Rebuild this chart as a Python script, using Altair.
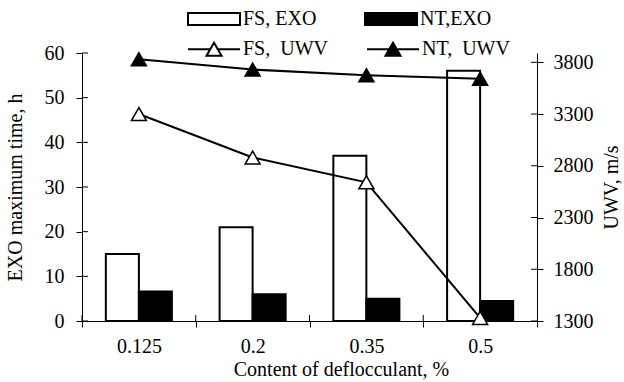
import altair as alt
import pandas as pd

# Deflocculant content (x categories)
categories = ["0.125", "0.2", "0.35", "0.5"]

# Maximum exotherm time, h (left axis, bars)
fs_exo = [15, 21, 37, 56]
nt_exo = [6.6, 6.0, 5.0, 4.5]

# Ultrasonic wave velocity, m/s (right axis, lines)
fs_uwv = [3300, 2880, 2640, 1330]
nt_uwv = [3830, 3730, 3675, 3640]

exo_ticks = [0, 10, 20, 30, 40, 50, 60]
uwv_ticks = [1300, 1800, 2300, 2800, 3300, 3800]

bar_series = ["FS, EXO", "NT,EXO"]
line_series = ["FS,\u00a0 UWV", "NT,\u00a0 UWV"]

FONT = "Liberation Serif"
W, H = 455, 268

bar_df = pd.DataFrame({
    "cat": categories * 2,
    "series": [bar_series[0]] * 4 + [bar_series[1]] * 4,
    "exo": fs_exo + nt_exo,
})
line_df = pd.DataFrame({
    "cat": categories * 2,
    "idx": list(range(4)) * 2,
    "series": [line_series[0]] * 4 + [line_series[1]] * 4,
    "uwv": fs_uwv + nt_uwv,
})
cat_df = pd.DataFrame({"cat": categories})
exo_tick_df = pd.DataFrame({"exo": exo_ticks})
uwv_tick_df = pd.DataFrame({"uwv": uwv_ticks})

left_scale = alt.Scale(domain=[0, 60], nice=False, zero=True)
right_scale = alt.Scale(domain=[1300, 3890], nice=False, zero=False)
x_scale = alt.Scale(paddingInner=0, paddingOuter=0)

x_axis = alt.Axis(
    title="Content of deflocculant, %", tickBand="extent", tickSize=6,
    labelPadding=9, labelAngle=0, titleX=259, titleY=54,
    titleBaseline="alphabetic", titleAlign="center",
)
left_axis = alt.Axis(
    title="EXO maximum time, h", values=exo_ticks, tickSize=6, labelPadding=12,
    titleAngle=270, titleX=-61, titleY=134, titleBaseline="alphabetic",
    titleAlign="center",
)
right_axis = alt.Axis(
    title="UWV, m/s", orient="right", values=uwv_ticks, format="d", tickSize=6,
    labelPadding=10, titleAngle=270, titleX=80, titleY=134,
    titleBaseline="alphabetic", titleAlign="center",
)

x_enc = alt.X("cat:N", sort=categories, scale=x_scale, axis=x_axis)
y_left = alt.Y("exo:Q", scale=left_scale, axis=left_axis)
y_right = alt.Y("uwv:Q", scale=right_scale, axis=right_axis)

# Legend symbols: a wide box for the bars, a line through a triangle for the curves
RECT_PATH = "M-1,-0.23H1V0.23H-1Z"
LINE_TRI_PATH = "M-1,0H-0.145M0.145,0H1M0,-0.25L0.29,0.25L-0.29,0.25Z"

legend_common = dict(
    orient="none", direction="horizontal", title=None, padding=0, offset=0,
    symbolSize=2704, symbolStrokeWidth=2, symbolStrokeColor="black",
    labelOffset=2, labelFont=FONT, labelFontSize=20, labelColor="black",
)
bar_legend = alt.Legend(symbolType=RECT_PATH, legendX=105, legendY=-61,
                        columnPadding=44, **legend_common)
line_legend = alt.Legend(symbolType=LINE_TRI_PATH, legendX=105, legendY=-31,
                         columnPadding=34, **legend_common)

bars = alt.Chart(bar_df).mark_bar(stroke="black", strokeWidth=2).encode(
    x=x_enc,
    xOffset=alt.XOffset("series:N", sort=bar_series,
                        scale=alt.Scale(paddingInner=0, paddingOuter=0.722)),
    y=y_left,
    fill=alt.Fill("series:N", sort=bar_series,
                  scale=alt.Scale(domain=bar_series, range=["white", "black"]),
                  legend=bar_legend),
)

# inner halves of the crossing tick marks
left_inner = alt.Chart(exo_tick_df).mark_rule(color="black", strokeWidth=1).encode(
    y=y_left,
    x=alt.value(0), x2=alt.value(6),
)
bottom_inner = alt.Chart(cat_df).mark_rule(color="black", strokeWidth=1).encode(
    x=alt.X("cat:N", sort=categories, scale=x_scale, bandPosition=0, axis=x_axis),
    y=alt.value(H - 6), y2=alt.value(H),
)
right_inner = alt.Chart(uwv_tick_df).mark_rule(color="black", strokeWidth=1).encode(
    y=y_right,
    x=alt.value(W - 6), x2=alt.value(W),
)

lines = alt.Chart(line_df).mark_line(color="black", strokeWidth=2).encode(
    x=x_enc,
    y=y_right,
    detail="series:N",
    order="idx:Q",
)
points = alt.Chart(line_df).mark_point(
    shape="triangle-up", size=225, filled=True, stroke="black",
    strokeWidth=1.5, opacity=1,
).encode(
    x=x_enc,
    y=y_right,
    fill=alt.Fill("series:N", sort=line_series,
                  scale=alt.Scale(domain=line_series, range=["white", "black"]),
                  legend=line_legend),
)

left_layer = alt.layer(bars, left_inner, bottom_inner)
right_layer = alt.layer(lines, points, right_inner)

chart = (
    alt.layer(left_layer, right_layer)
    .resolve_scale(y="independent", fill="independent")
    .resolve_legend(fill="independent")
    .properties(
        width=W, height=H,
        padding={"left": 82, "top": 53, "right": 624 - 82 - W, "bottom": 382 - 53 - H},
        autosize=alt.AutoSizeParams(type="none"),
        background="white",
    )
    .configure(font=FONT)
    .configure_axis(
        labelFont=FONT, labelFontSize=20, labelColor="black",
        titleFont=FONT, titleFontSize=20, titleFontWeight="normal",
        titleColor="black", domainColor="black", tickColor="black",
        domainWidth=1, tickWidth=1, grid=False,
    )
    .configure_view(stroke=None)
)

chart.save("out.html", embed_options={"renderer": "svg", "actions": False})
